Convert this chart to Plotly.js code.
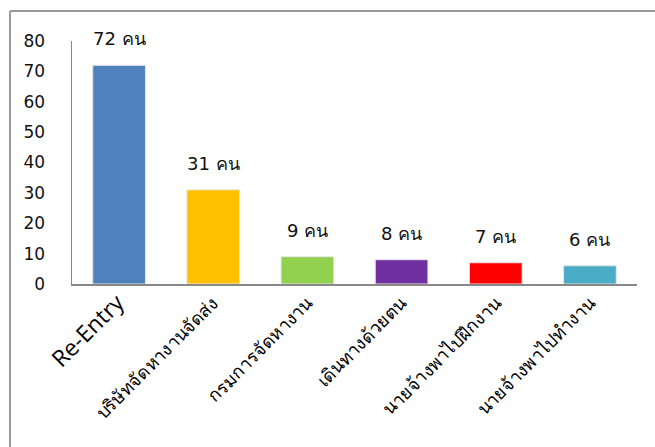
<!DOCTYPE html>
<html>
<head>
<meta charset="utf-8">
<script src="https://cdn.plot.ly/plotly-3.0.1.min.js"></script>
<style>
html,body{margin:0;padding:0;background:#fff;}
#chart{width:655px;height:447px;}
</style>
</head>
<body>
<div id="chart"></div>
<script>
const categories = ['Re-Entry', 'บริษัทจัดหางานจัดส่ง', 'กรมการจัดหางาน', 'เดินทางด้วยตน', 'นายจ้างพาไปฝึกงาน', 'นายจ้างพาไปทำงาน'];
const values = [72, 31, 9, 8, 7, 6];
const unit = 'คน';
const colors = ['#4F81BD', '#FFC000', '#92D050', '#7030A0', '#FF0000', '#4BACC6'];
const yTicks = [0, 10, 20, 30, 40, 50, 60, 70, 80];

const tickText = categories.map((c, i) => i === 0
  ? '<span style="font-size:23px;font-family:Open Sans, sans-serif">' + c + '</span>'
  : c);

const trace = {
  type: 'bar',
  x: categories,
  y: values,
  marker: {color: colors, line: {color: '#e6e6e6', width: 1}},
  width: 0.56,
  hoverinfo: 'none'
};

const annotations = categories.map((c, i) => ({
  x: c, y: values[i], xref: 'x', yref: 'y',
  text: values[i] + ' ' + unit,
  showarrow: false, yanchor: 'bottom', yshift: 14,
  font: {size: 18, color: '#111', family: 'DejaVu Sans, sans-serif'}
}));

const layout = {
  width: 655, height: 447,
  margin: {l: 72, r: 18, t: 41, b: 163},
  paper_bgcolor: '#fff', plot_bgcolor: '#fff',
  showlegend: false,
  font: {family: 'DejaVu Sans, sans-serif', color: '#000'},
  xaxis: {
    tickmode: 'array', tickvals: categories, ticktext: tickText,
    tickangle: -45, tickfont: {size: 18, color: '#000'},
    showline: true, linecolor: '#888', linewidth: 1.5,
    showgrid: false, ticks: '', zeroline: false, fixedrange: true
  },
  yaxis: {
    range: [0, 80], tickmode: 'array', tickvals: yTicks,
    tickfont: {size: 17, color: '#111'},
    showline: true, linecolor: '#888', linewidth: 1.5,
    showgrid: false, zeroline: false, ticks: '',
    ticklabelstandoff: 22, fixedrange: true
  },
  annotations: annotations,
  shapes: [
    {type: 'line', xref: 'paper', yref: 'paper', x0: -62/565, x1: 700/565, y0: 1 + 30/243, y1: 1 + 30/243,
     line: {color: '#999', width: 2}},
    {type: 'line', xref: 'paper', yref: 'paper', x0: -62/565, x1: -62/565, y0: 1 + 30/243, y1: -200/243,
     line: {color: '#999', width: 2}}
  ]
};

Plotly.newPlot('chart', [trace], layout, {displayModeBar: false, staticPlot: true});
</script>
</body>
</html>
